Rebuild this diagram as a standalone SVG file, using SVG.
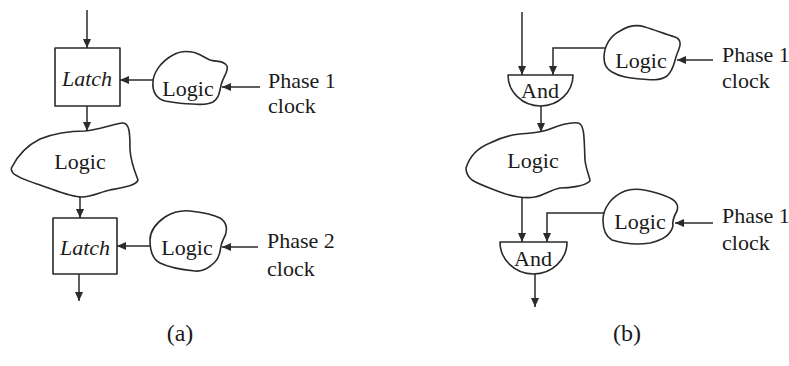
<svg xmlns="http://www.w3.org/2000/svg" width="789" height="366" viewBox="0 0 789 366">
<style>
.sh{fill:none;stroke:#2a2a2a;stroke-width:1.6;stroke-linejoin:round}
.ln{fill:none;stroke:#2a2a2a;stroke-width:1.5}
text{font-family:"Liberation Serif","Times New Roman","DejaVu Serif",serif;fill:#1a1a1a}
.t{font-size:22px;text-anchor:middle}
.lt{font-size:22px}
.it{font-style:italic}
.cap{font-size:24px;text-anchor:middle}
</style>
<defs>
<marker id="ah" markerUnits="userSpaceOnUse" markerWidth="10" markerHeight="8" refX="9" refY="4" orient="auto">
<path d="M0,0 L9,4 L0,8 Z" fill="#2a2a2a"/>
</marker>
</defs>
<rect width="789" height="366" fill="#fff"/>

<g id="latch1"><rect class="sh" x="55" y="48" width="65" height="58"/><text class="t it" x="87" y="86">Latch</text></g>
<g id="logicA1"><path class="sh" d="M153,82 C153,74 160,62 173,55 C180,51 186,51 192,52 C199,53 203,57 210,60 C216,62 224,60 227,66 C229,72 222,78 221,86 C219,92 220,97 213,102 C205,106 198,104 192,104 C184,104 176,103 165,101 C157,99 152,92 153,82 Z"/><text class="t" x="188" y="96">Logic</text></g>
<g id="phaseA1"><text class="lt" x="268" y="88">Phase 1</text><text class="lt" x="268" y="113">clock</text></g>
<g id="logicA"><path class="sh" d="M12,167 C18,155 28,145 40,139 C55,133 70,131 85,131 C98,130 110,125 122,123 C130,122 130,135 130,150 C131,163 135,172 138,180 C137,185 125,187 110,190 C100,192 92,197 82,197 C70,197 55,190 40,185 C28,181 18,178 13,173 C11,170 11,168 12,167 Z"/><text class="t" x="80" y="169">Logic</text></g>
<g id="latch2"><rect class="sh" x="53" y="218" width="64" height="56"/><text class="t it" x="85" y="255">Latch</text></g>
<g id="logicA2"><path class="sh" d="M150,240 C150,232 155,224 165,217 C173,212 181,210 190,211 C200,212 210,213 220,218 C228,223 228,232 223,240 C219,247 222,255 215,262 C209,268 203,272 195,271 C185,270 170,268 160,263 C152,259 150,250 150,240 Z"/><text class="t" x="187" y="255">Logic</text></g>
<g id="phaseA2"><text class="lt" x="267" y="248">Phase 2</text><text class="lt" x="267" y="276">clock</text></g>
<g id="capA"><text class="cap" x="180" y="341">(a)</text></g>

<g id="logicB1"><path class="sh" d="M604,58 C604,46 610,36 620,31 C628,26 636,24 645,27 C655,30 665,34 675,37 C683,40 680,47 677,54 C674,62 674,70 667,76 C660,81 650,80 640,79 C630,78 620,77 612,72 C605,68 604,63 604,58 Z"/><text class="t" x="641" y="68">Logic</text></g>
<g id="phaseB1"><text class="lt" x="722" y="62">Phase 1</text><text class="lt" x="722" y="88">clock</text></g>
<g id="and1"><path class="sh" d="M508,75 L573,75 A32.5,31 0 0 1 508,75 Z"/><text class="t" x="540" y="98">And</text></g>
<g id="logicB"><path class="sh" d="M466,168 C470,155 480,147 490,143 C500,138 510,135 520,134 C530,133 540,133 550,129 C560,125 570,122 578,123 C585,124 584,140 585,160 C586,170 590,177 590,181 C585,186 570,188 560,188 C550,190 545,195 535,197 C525,199 510,196 500,192 C490,188 480,185 472,180 C467,176 466,172 466,168 Z"/><text class="t" x="533" y="168">Logic</text></g>
<g id="logicB2"><path class="sh" d="M603,220 C603,208 612,196 625,191 C635,187 648,190 660,194 C672,198 680,202 677,211 C674,216 672,220 673,226 C671,234 664,240 650,243 C638,245 625,244 612,240 C605,236 603,228 603,220 Z"/><text class="t" x="640" y="229">Logic</text></g>
<g id="phaseB2"><text class="lt" x="722" y="223">Phase 1</text><text class="lt" x="722" y="250">clock</text></g>
<g id="and2"><path class="sh" d="M500,242 L567,242 A33.5,32 0 0 1 500,242 Z"/><text class="t" x="533" y="266">And</text></g>
<g id="capB"><text class="cap" x="627" y="341">(b)</text></g>

<g id="connectors">
<line class="ln" x1="87" y1="10" x2="87" y2="48" marker-end="url(#ah)"/>
<line class="ln" x1="153" y1="80" x2="120" y2="80" marker-end="url(#ah)"/>
<line class="ln" x1="260" y1="87" x2="222" y2="87" marker-end="url(#ah)"/>
<line class="ln" x1="87" y1="106" x2="87" y2="131" marker-end="url(#ah)"/>
<line class="ln" x1="80" y1="197" x2="80" y2="218" marker-end="url(#ah)"/>
<line class="ln" x1="150" y1="246" x2="117" y2="246" marker-end="url(#ah)"/>
<line class="ln" x1="258" y1="247" x2="222" y2="247" marker-end="url(#ah)"/>
<line class="ln" x1="79" y1="274" x2="79" y2="301" marker-end="url(#ah)"/>

<line class="ln" x1="522" y1="12" x2="522" y2="75" marker-end="url(#ah)"/>
<polyline class="ln" points="605,48 553,48 553,75" marker-end="url(#ah)"/>
<line class="ln" x1="713" y1="60" x2="677" y2="60" marker-end="url(#ah)"/>
<line class="ln" x1="541" y1="106" x2="541" y2="132" marker-end="url(#ah)"/>
<line class="ln" x1="522" y1="197" x2="522" y2="242" marker-end="url(#ah)"/>
<polyline class="ln" points="604,213 547,213 547,242" marker-end="url(#ah)"/>
<line class="ln" x1="713" y1="223" x2="675" y2="223" marker-end="url(#ah)"/>
<line class="ln" x1="535" y1="274" x2="535" y2="307" marker-end="url(#ah)"/>
</g>
</svg>
